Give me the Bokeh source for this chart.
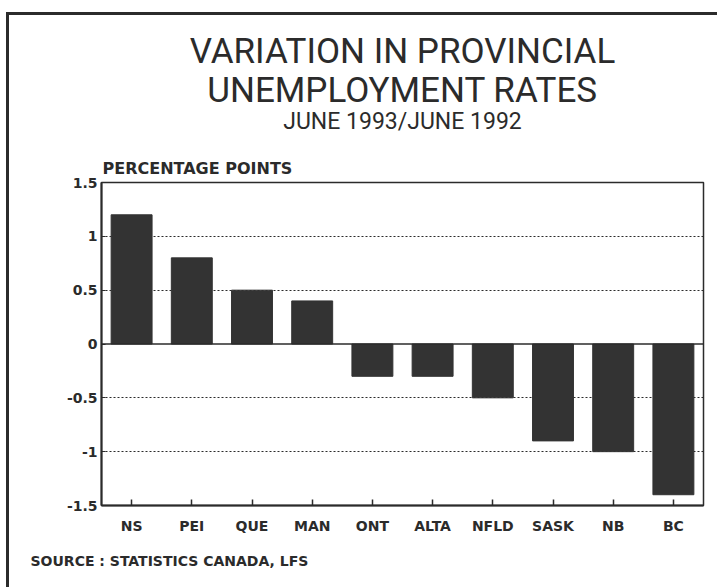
from bokeh.plotting import figure
from bokeh.models import FixedTicker, Span, Title
from bokeh.embed import file_html
from bokeh.resources import INLINE

# ---- data ----
provinces = ["NS", "PEI", "QUE", "MAN", "ONT", "ALTA", "NFLD", "SASK", "NB", "BC"]
changes = [1.2, 0.8, 0.5, 0.4, -0.3, -0.3, -0.5, -0.9, -1.0, -1.4]
y_ticks = [-1.5, -1.0, -0.5, 0.0, 0.5, 1.0, 1.5]
y_tick_labels = ["-1.5", "-1", "-0.5", "0", "0.5", "1", "1.5"]
grid_levels = [-1.0, -0.5, 0.5, 1.0]

title_lines = ["VARIATION IN PROVINCIAL", "UNEMPLOYMENT RATES"]
subtitle = "JUNE 1993/JUNE 1992"
unit_label = "PERCENTAGE POINTS"
source_text = "SOURCE : STATISTICS CANADA, LFS"

INK = "#2b2b2b"
BAR = "#333333"

p = figure(x_range=provinces, y_range=(-1.5, 1.5), width=717, height=587,
           output_backend="svg", toolbar_location=None, title=None,
           min_border_left=101, min_border_right=14,
           min_border_top=182, min_border_bottom=80)
p.border_fill_alpha = 0
p.background_fill_color = "white"
# page border (left and top edges only are visible in the scan)
p.styles = {
    "background-color": "white",
    "box-shadow": f"inset 6px 12px 0 0 white, inset 9px 15px 0 0 {INK}",
}

p.vbar(x=provinces, top=changes, width=0.68, fill_color=BAR, line_color=BAR)

p.add_layout(Span(location=0, dimension="width", line_color=INK, line_width=1.5))

# axes
p.xaxis.major_tick_in = 6
p.xaxis.major_tick_out = 0
p.xaxis.major_tick_line_color = INK
p.xaxis.major_tick_line_width = 1.5
p.xaxis.axis_line_color = INK
p.xaxis.axis_line_width = 2
p.xaxis.major_label_text_font = "DejaVu Sans"
p.xaxis.major_label_text_font_style = "bold"
p.xaxis.major_label_text_font_size = "14px"
p.xaxis.major_label_text_color = INK
p.xaxis.major_label_standoff = 12

p.yaxis.ticker = FixedTicker(ticks=y_ticks)
p.yaxis.major_label_overrides = dict(zip(y_ticks, y_tick_labels))
p.yaxis.major_tick_in = 4
p.yaxis.major_tick_out = 0
p.yaxis.minor_tick_line_color = None
p.yaxis.major_tick_line_color = INK
p.yaxis.axis_line_color = INK
p.yaxis.axis_line_width = 2
p.yaxis.major_label_text_font = "DejaVu Sans"
p.yaxis.major_label_text_font_style = "bold"
p.yaxis.major_label_text_font_size = "14px"
p.yaxis.major_label_text_color = INK
p.yaxis.major_label_standoff = 4

p.xgrid.visible = False
p.ygrid.ticker = FixedTicker(ticks=grid_levels)
p.ygrid.grid_line_color = INK
p.ygrid.grid_line_dash = "2 2"
p.ygrid.grid_line_width = 1.2

p.outline_line_color = INK
p.outline_line_width = 1.5
p.outline_line_alpha = 1.0

# titles, stacked from the frame outward
p.add_layout(Title(text=unit_label, align="left", offset=1, vertical_align="bottom",
                   standoff=9, text_font="DejaVu Sans", text_font_style="bold",
                   text_font_size="16px", text_color=INK), "above")
p.add_layout(Title(text=subtitle, align="center", vertical_align="bottom",
                   standoff=35, text_font="Roboto", text_font_style="normal",
                   text_font_size="23px", text_color=INK), "above")
p.add_layout(Title(text=title_lines[1], align="center", vertical_align="bottom",
                   standoff=-45, text_font="Roboto", text_font_style="normal",
                   text_font_size="35px", text_color=INK), "above")
p.add_layout(Title(text=title_lines[0], align="center", vertical_align="bottom",
                   standoff=34, text_font="Roboto", text_font_style="normal",
                   text_font_size="35px", text_color=INK), "above")

p.add_layout(Title(text=source_text, align="left", offset=-71, vertical_align="top",
                   standoff=33, text_font="DejaVu Sans", text_font_style="bold",
                   text_font_size="14px", text_color=INK), "below")

open("out.html", "w").write(file_html(p, INLINE))
